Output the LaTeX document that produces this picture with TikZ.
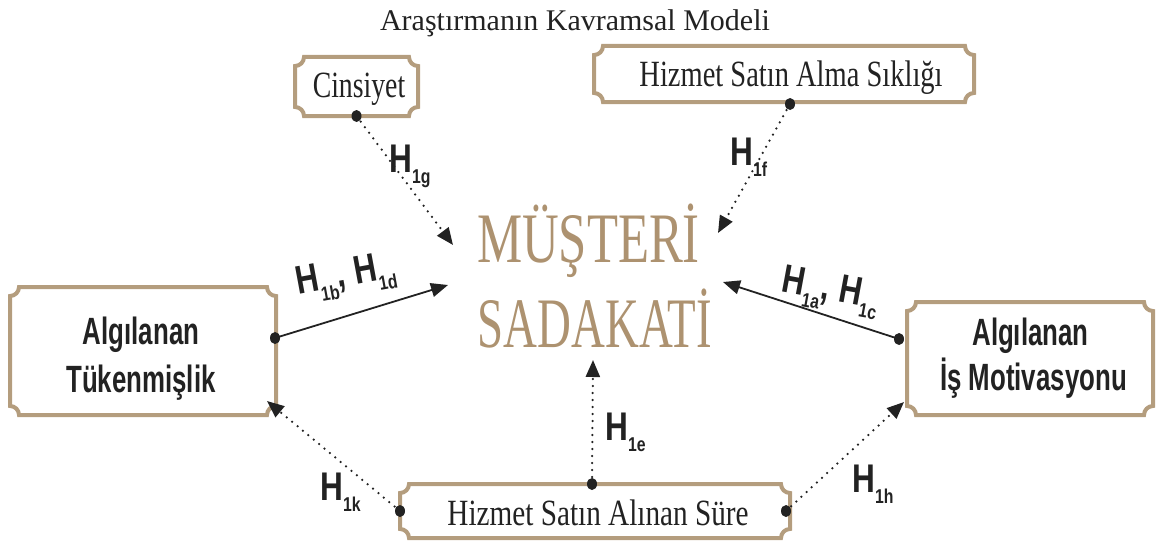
\documentclass[tikz,border=0pt]{standalone}
\usepackage{graphicx}
\usepackage{fontspec}
\setmainfont{Liberation Serif}
\newfontfamily\labsans{Liberation Sans}
\usetikzlibrary{arrows.meta,calc}

\definecolor{frametan}{RGB}{180,157,126}
\definecolor{loyal}{RGB}{173,146,112}
\definecolor{ink}{RGB}{34,34,34}

% corner radius of the notched frames
\newcommand\frameR{9}
% notched frame drawn along the border of a named node
\newcommand\frameit[1]{%
  \draw[frameline]
    ($(#1.north west)+(\frameR,0)$) -- ($(#1.north east)+(-\frameR,0)$)
    arc[start angle=180,end angle=270,radius=\frameR]
    -- ($(#1.south east)+(0,\frameR)$)
    arc[start angle=90,end angle=180,radius=\frameR]
    -- ($(#1.south west)+(\frameR,0)$)
    arc[start angle=0,end angle=90,radius=\frameR]
    -- ($(#1.north west)+(0,-\frameR)$)
    arc[start angle=270,end angle=360,radius=\frameR] -- cycle;}

% hypothesis labels: H with a subscript
\newcommand\hsub[1]{\raisebox{-11pt}{\fontsize{20}{20}\selectfont #1}}
\newcommand\hyp[1]{\scalebox{0.79}[1]{\labsans\bfseries\fontsize{40}{40}\selectfont H\hsub{#1}}}
\newcommand\hyppair[2]{\scalebox{0.79}[1]{\labsans\bfseries\fontsize{40}{40}\selectfont H\hsub{#1}, H\hsub{#2}}}

\tikzset{
  framebox/.style={inner sep=0pt, outer sep=0pt, draw=none},
  frameline/.style={draw=frametan, line width=4pt},
  serlab/.style={inner sep=0pt, text=ink, font=\fontsize{37}{37}\selectfont},
  boldlab/.style={inner sep=0pt, text=ink, font=\labsans\bfseries\fontsize{38}{38}\selectfont},
  biglab/.style={inner sep=0pt, text=loyal, font=\fontsize{71}{71}\selectfont},
  hlab/.style={inner sep=0pt, anchor=base west, text=ink},
  dotlink/.style={draw=ink, line width=2.5pt, dash pattern=on 0pt off 7pt, line cap=round,
    -{Triangle[length=17pt,width=14pt]}},
  solidlink/.style={draw=ink, line width=1.8pt, -{Triangle[length=17pt,width=14pt]}},
  enddot/.style={fill=ink}
}

\begin{document}
\begin{tikzpicture}[x=1pt,y=1pt]
\useasboundingbox (0,0) rectangle (1157,-543);

% title
\node[anchor=base, inner sep=0pt, text=ink, font=\fontsize{30}{30}\selectfont] (title) at (575,-31)
  {Araştırmanın Kavramsal Modeli};

% frames
\node[framebox, minimum width=123, minimum height=59] (cins) at (356.5,-86.5) {};
\node[framebox, minimum width=380, minimum height=56] (freq) at (784,-74) {};
\node[framebox, minimum width=266, minimum height=128] (tuk) at (143,-351) {};
\node[framebox, minimum width=246, minimum height=113] (mot) at (1030,-358.5) {};
\node[framebox, minimum width=390, minimum height=54] (sure) at (595,-511) {};
\foreach \b in {cins,freq,tuk,mot,sure} {\frameit{\b}}

% frame texts
\node[serlab, anchor=base] (cinstext) at (359,-98) {\scalebox{0.75}[1]{Cinsiyet}};
\node[serlab, anchor=base] (freqtext) at (791,-87) {\scalebox{0.77}[1]{Hizmet Satın Alma Sıklığı}};
\node[serlab, anchor=base] (suretext) at (598,-525) {\scalebox{0.79}[1]{Hizmet Satın Alınan Süre}};
\node[boldlab, anchor=base] (tuktexta) at (141,-344) {\scalebox{0.68}[1]{Algılanan}};
\node[boldlab, anchor=base] (tuktextb) at (141,-392) {\scalebox{0.68}[1]{Tükenmişlik}};
\node[boldlab, anchor=base] (mottexta) at (1030.5,-345) {\scalebox{0.68}[1]{Algılanan}};
\node[boldlab, anchor=base] (mottextb) at (1033.5,-390) {\scalebox{0.68}[1]{İş Motivasyonu}};

% central construct
\node[biglab, anchor=base] (loyala) at (588.5,-262) {\scalebox{0.715}[1]{MÜŞTERİ}};
\node[biglab, anchor=base] (loyalb) at (595,-347) {\scalebox{0.66}[1]{SADAKATİ}};

% connector ends
\coordinate (cinsdot) at (cins.south);
\coordinate (freqdot) at ($(freq.south)+(6,-2)$);
\coordinate (tukdot) at ($(tuk.east)+(-1,13)$);
\coordinate (motdot) at ($(mot.west)+(-8,19.5)$);
\coordinate (surew) at (sure.west);
\coordinate (suren) at ($(sure.north)+(-3,0)$);
\coordinate (suree) at ($(sure.east)+(-4,0)$);

\coordinate (tipg) at (453,-245);
\coordinate (tipf) at (718,-233);
\coordinate (tipbd) at (448,-285);
\coordinate (tipac) at (723,-282);
\coordinate (tipe) at (593,-360);
\coordinate (tipk) at (267,-401);
\coordinate (tiph) at (904,-402);

% connectors
\draw[dotlink] (cinsdot) -- (tipg);
\draw[dotlink] (freqdot) -- (tipf);
\draw[solidlink] (tukdot) -- (tipbd);
\draw[solidlink] (motdot) -- (tipac);
\draw[dotlink] (suren) -- (tipe);
\draw[dotlink] (surew) -- (tipk);
\draw[dotlink] (suree) -- (tiph);

\foreach \c in {cinsdot,freqdot,tukdot,motdot,surew,suren,suree}
  {\fill[enddot] (\c) circle[x radius=5pt, y radius=6pt];}

% hypothesis labels
\node[hlab] (h1g) at (389,-172) {\hyp{1g}};
\node[hlab] (h1f) at (730,-165) {\hyp{1f}};
\node[hlab, rotate=10.5] (h1bd) at (298,-295) {\hyppair{1b}{1d}};
\node[hlab, rotate=-10.5] (h1ac) at (780,-291) {\hyppair{1a}{1c}};
\node[hlab] (h1e) at (605,-440) {\hyp{1e}};
\node[hlab] (h1k) at (320,-500) {\hyp{1k}};
\node[hlab] (h1h) at (852,-492) {\hyp{1h}};
\end{tikzpicture}
\end{document}
